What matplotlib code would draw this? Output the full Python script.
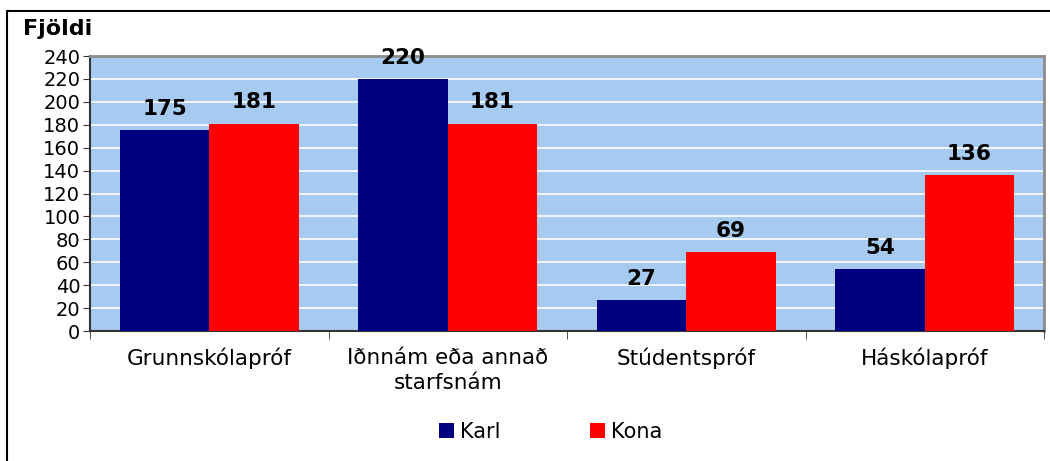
import numpy as np
import matplotlib
matplotlib.use("Agg")
import matplotlib.pyplot as plt
from matplotlib.patches import Rectangle

categories = ["Grunnskólapróf", "Iðnnám eða annað\nstarfsnám", "Stúdentspróf", "Háskólapróf"]
karl = [175, 220, 27, 54]
kona = [181, 181, 69, 136]
series_names = ["Karl", "Kona"]
yticks = list(range(0, 241, 20))

W, H = 1050, 461
fig = plt.figure(figsize=(W / 100, H / 100), dpi=100)
ax = fig.add_axes([90 / W, 1 - 331 / H, (1044 - 90) / W, (331 - 56) / H])

# outer frame of the chart (right and bottom edges are cropped in the original)
fig.patches.append(Rectangle((7 / W, -0.05), 1.2, 1 - 11 / H + 0.05,
                             transform=fig.transFigure, fill=False,
                             edgecolor="black", linewidth=1.5))

x = np.arange(len(categories))
bw = 0.375
b1 = ax.bar(x - bw / 2, karl, bw, color="#000080", label=series_names[0], zorder=3)
b2 = ax.bar(x + bw / 2, kona, bw, color="#FF0000", label=series_names[1], zorder=3)

for bars in (b1, b2):
    for bar in bars:
        ax.annotate(f"{int(bar.get_height())}",
                    (bar.get_x() + bar.get_width() / 2, bar.get_height()),
                    xytext=(0, 8), textcoords="offset points",
                    ha="center", va="bottom", fontsize=15.5, fontweight="bold")

ax.set_facecolor("#A6CAF0")
ax.set_xlim(-0.5, len(categories) - 0.5)
ax.set_ylim(0, 240)
ax.set_yticks(yticks)
ax.yaxis.grid(True, color="white", linewidth=1.2, zorder=1)
ax.set_axisbelow(True)
ax.tick_params(axis="y", labelsize=14, length=5, direction="out", color="#333333", pad=2)

ax.set_xticks(x)
ax.set_xticklabels(categories, fontsize=15.5, linespacing=1.35)
ax.tick_params(axis="x", length=0, pad=12)
ax.set_xticks(np.arange(len(categories) + 1) - 0.5, minor=True)
ax.tick_params(axis="x", which="minor", length=6, color="#333333", direction="out")

for side in ("left", "bottom"):
    ax.spines[side].set_color("#333333")
    ax.spines[side].set_linewidth(1.5)
for side in ("top", "right"):
    ax.spines[side].set_color("#8c8c8c")
    ax.spines[side].set_linewidth(2)

fig.text(23 / W, 1 - 29 / H, "Fjöldi", fontsize=16, fontweight="bold", va="center", ha="left")

fig.legend(handles=[b1, b2], labels=series_names, loc="center",
           bbox_to_anchor=(551 / W, 1 - 432 / H), ncol=2, frameon=False,
           fontsize=15, handlelength=0.7, handleheight=0.7, handletextpad=0.3,
           columnspacing=4.3)

fig.savefig("out.png", dpi=100)
